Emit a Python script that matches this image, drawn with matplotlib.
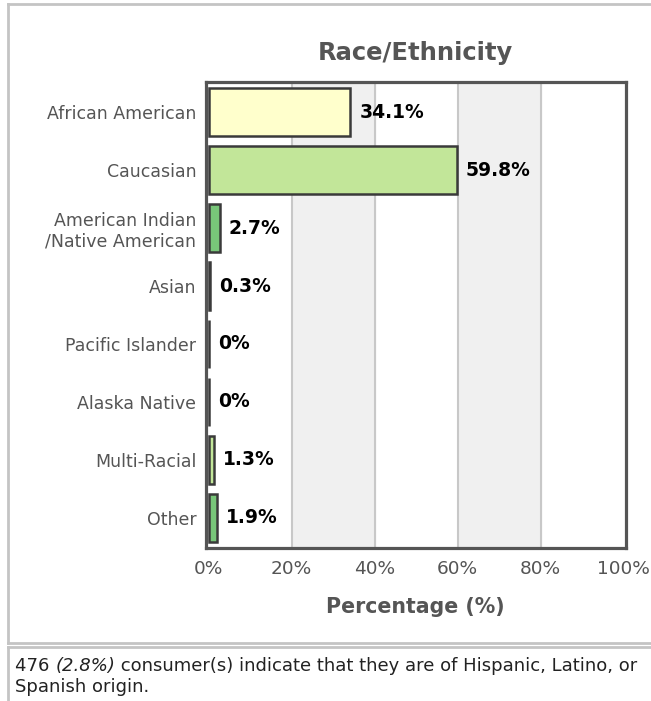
import matplotlib
matplotlib.use('Agg')
import matplotlib.pyplot as plt
from matplotlib.lines import Line2D

categories = ['African American', 'Caucasian', 'American Indian\n/Native American', 'Asian',
              'Pacific Islander', 'Alaska Native', 'Multi-Racial', 'Other']
values = [34.1, 59.8, 2.7, 0.3, 0, 0, 1.3, 1.9]
value_labels = ['34.1%', '59.8%', '2.7%', '0.3%', '0%', '0%', '1.3%', '1.9%']
bar_colors = ['#ffffcc', '#c2e699', '#78c679', '#31a354', '#31a354', '#31a354', '#c2e699', '#78c679']
x_ticks = [0, 20, 40, 60, 80, 100]
x_tick_labels = ['0%', '20%', '40%', '60%', '80%', '100%']

W, H = 651, 701
plt.rcParams['font.family'] = 'DejaVu Sans'
fig = plt.figure(figsize=(W / 100, H / 100), dpi=100)

def fx(px):
    return px / W

def fy(py):
    return 1 - py / H

ax = fig.add_axes([fx(206), fy(548), fx(625.5) - fx(206), fy(82) - fy(548)])

# alternating background bands + grid
for i in range(len(x_ticks) - 1):
    if i % 2 == 1:
        ax.axvspan(x_ticks[i], x_ticks[i + 1], color='#f0f0f0', zorder=0)
for t in x_ticks[1:-1]:
    ax.axvline(t, color='#c8c8c8', lw=1.5, zorder=1)

y = list(range(len(categories)))
ax.barh(y, values, height=0.83, color=bar_colors, edgecolor='#3a3a3a', linewidth=1.8, zorder=3)
for yi, v, lab in zip(y, values, value_labels):
    ax.annotate(lab, (v, yi), xytext=(6.5, 0), textcoords='offset points', va='center',
                ha='left', fontsize=13.5, fontweight='bold', color='black', zorder=4)

ax.set_xlim(-0.65, 100.45)
ax.set_ylim(7.52, -0.52)
ax.set_yticks(y)
ax.set_yticklabels(categories, fontsize=12.5, color='#555555')
ax.set_xticks(x_ticks)
ax.set_xticklabels(x_tick_labels, fontsize=13.3, color='#555555')
ax.tick_params(axis='both', length=0)
ax.tick_params(axis='y', pad=7)
ax.tick_params(axis='x', pad=9)
for s in ax.spines.values():
    s.set_color('#555555')
    s.set_linewidth(2.3)
ax.set_xlabel('Percentage (%)', fontsize=14.8, fontweight='bold', color='#555555', labelpad=13)

fig.text(fx(415), fy(53), 'Race/Ethnicity', ha='center', va='center', fontsize=17.5,
         fontweight='bold', color='#555555')

# outer panel borders
border = '#c4c4c4'
fig.add_artist(Line2D([fx(8), fx(8)], [fy(4), fy(643)], color=border, lw=2))
fig.add_artist(Line2D([fx(8), 1], [fy(4), fy(4)], color=border, lw=2))
fig.add_artist(Line2D([fx(8), 1], [fy(643), fy(643)], color=border, lw=2))
fig.add_artist(Line2D([fx(8), 1], [fy(647), fy(647)], color=border, lw=2))
fig.add_artist(Line2D([fx(8), fx(8)], [fy(647), 0], color=border, lw=2))

# footer note, pieces laid out one after another
renderer = fig.canvas.get_renderer()
x = fx(15)
for piece, st in [('476 ', 'normal'), ('(2.8%)', 'italic'),
                  (' consumer(s) indicate that they are of Hispanic, Latino, or', 'normal')]:
    t = fig.text(x, fy(666), piece, ha='left', va='center', fontsize=13, color='#222222', style=st)
    bb = t.get_window_extent(renderer)
    x = bb.x1 / W
fig.text(fx(15), fy(687), 'Spanish origin.', ha='left', va='center', fontsize=13, color='#222222')

fig.savefig('out.png', dpi=100)
